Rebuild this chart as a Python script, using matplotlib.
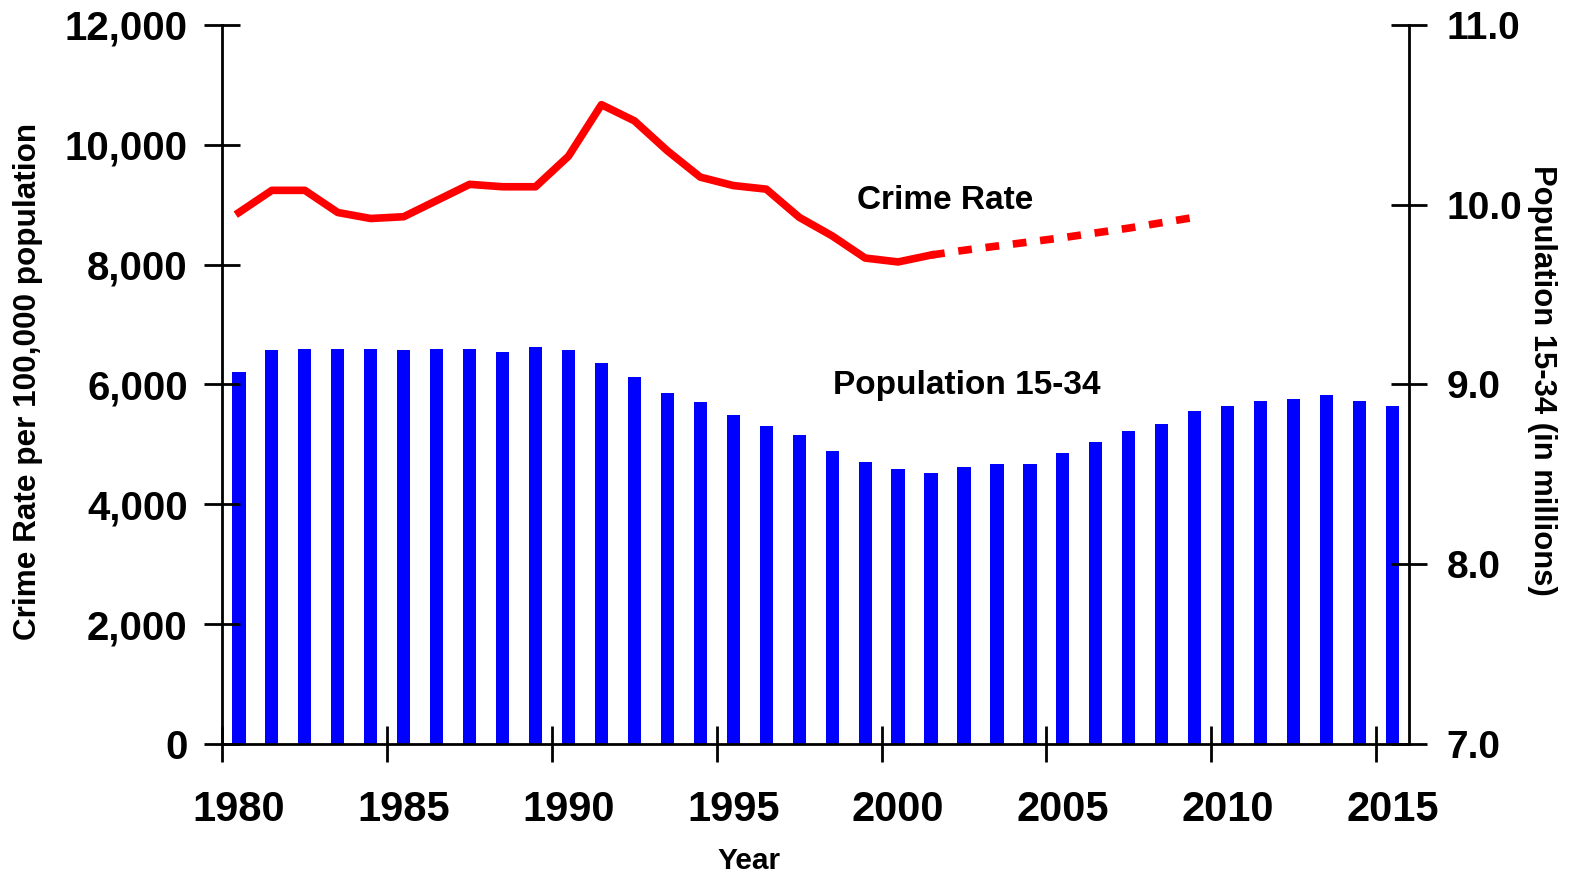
import matplotlib.pyplot as plt
import numpy as np

# crime rate per 100,000 (actual) and projection
crime_years = np.arange(1980, 2002)
crime_rate = [8870, 9240, 9240, 8870, 8770, 8800, 9070, 9340, 9300, 9300, 9810,
              10670, 10400, 9900, 9460, 9320, 9260, 8790, 8480, 8110, 8045, 8160]
proj_years = np.arange(2001, 2010)
proj_rate = [8160, 8240, 8310, 8380, 8450, 8530, 8610, 8700, 8790]

# population aged 15-34, millions
pop_years = np.arange(1980, 2016)
pop = [9.07, 9.19, 9.20, 9.20, 9.20, 9.19, 9.20, 9.20, 9.18, 9.21, 9.19, 9.12,
       9.04, 8.95, 8.90, 8.83, 8.77, 8.72, 8.63, 8.57, 8.53, 8.51, 8.54, 8.56,
       8.56, 8.62, 8.68, 8.74, 8.78, 8.85, 8.88, 8.91, 8.92, 8.94, 8.91, 8.88]

left_ticks = np.arange(0, 12001, 2000)
right_ticks = [7.0, 8.0, 9.0, 10.0, 11.0]
x_ticks = np.arange(1980, 2016, 5)

red = '#ff0000'
blue = '#0000ff'
bold = dict(family=['Liberation Sans', 'DejaVu Sans'], weight='bold')

fig = plt.figure(figsize=(15.82, 8.76), dpi=100)
ax = fig.add_axes([0.1406, 0.1507, 0.7500, 0.8208])
ax2 = ax.twinx()

# bars sit behind the line
ax2.bar(pop_years + 0.5, np.array(pop) - 7.0, bottom=7.0, width=0.4, color=blue, zorder=1)
ax.set_zorder(ax2.get_zorder() + 1)
ax.patch.set_visible(False)

ax.plot(crime_years + 0.5, crime_rate, color=red, lw=5.5, zorder=3)
ax.plot(proj_years + 0.5, proj_rate, color=red, lw=5.5, ls=(0, (1.8, 1.8)), zorder=3)

ax.set_xlim(1980, 2016)
ax.set_ylim(0, 12000)
ax2.set_ylim(7.0, 11.0)

# year ticks on the gridline, labels centred half a year later
ax.set_xticks(x_ticks)
ax.set_xticklabels([])
ax.set_xticks(x_ticks + 0.5, minor=True)
ax.set_xticklabels([str(y) for y in x_ticks], minor=True, fontsize=30, **bold)
ax.set_yticks(left_ticks)
ax.set_yticklabels([f'{v:,}' for v in left_ticks], fontsize=29, **bold)
ax2.set_yticks(right_ticks)
ax2.set_yticklabels([f'{v:.1f}' for v in right_ticks], fontsize=28, **bold)

ax.tick_params(axis='x', which='major', direction='inout', length=26, width=2)
ax.tick_params(axis='x', which='minor', length=0, pad=33)
ax.tick_params(axis='y', direction='inout', length=26, width=2, pad=12)
ax2.tick_params(axis='y', direction='inout', length=26, width=2, pad=14)

for a in (ax, ax2):
    a.spines['top'].set_visible(False)
    for s in ('left', 'right', 'bottom'):
        a.spines[s].set_linewidth(2)
ax.spines['right'].set_visible(False)
ax2.spines['left'].set_visible(False)
ax2.spines['bottom'].set_visible(False)

ax.text(2001.94, 9071, 'Crime Rate', ha='center', va='center', fontsize=24, **bold)
ax.text(2002.59, 5991, 'Population 15-34', ha='center', va='center', fontsize=24, **bold)

fig.text(0.0175, 0.565, 'Crime Rate per 100,000 population', rotation=90,
         ha='center', va='center', fontsize=22.7, **bold)
fig.text(0.975, 0.566, 'Population 15-34 (in millions)', rotation=270,
         ha='center', va='center', fontsize=22.3,
         family=['Liberation Sans Narrow', 'Liberation Sans', 'DejaVu Sans'], weight='bold')
fig.text(0.4735, 0.0175, 'Year', ha='center', va='center', fontsize=21.5, **bold)

fig.savefig('out.png', dpi=100)
